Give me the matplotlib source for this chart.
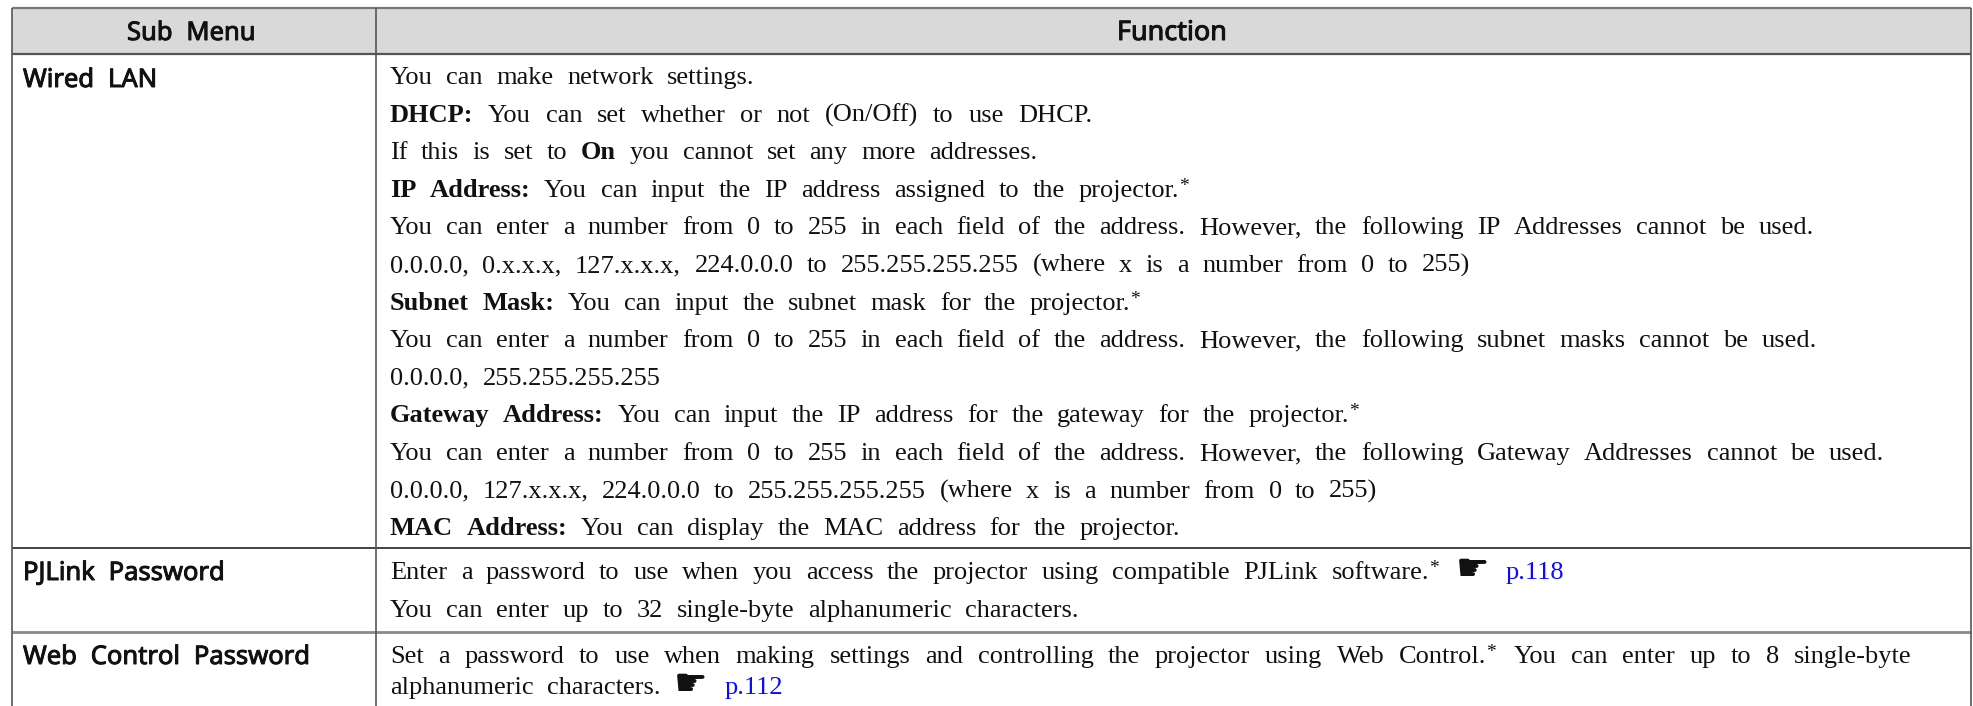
import matplotlib
matplotlib.use("Agg")
import matplotlib.pyplot as plt
import matplotlib.patheffects as pe
from matplotlib.patches import Rectangle

W, H = 1973, 706

headers = ["Sub Menu", "Function"]
menu_names = ["Wired LAN", "PJLink Password", "Web Control Password"]

# r = regular, b = bold, s = raised asterisk, h = hand sign, l = blue link
wired_lines = [
    [("You can make network settings.", "r")],
    [("DHCP:", "b"), ("You can set whether or not (On/Off) to use DHCP.", "r")],
    [("If this is set to", "r"), ("On", "b"), ("you cannot set any more addresses.", "r")],
    [("IP Address:", "b"), ("You can input the IP address assigned to the projector.", "r"), ("*", "s")],
    [("You can enter a number from 0 to 255 in each field of the address. However, the following IP Addresses cannot be used.", "r")],
    [("0.0.0.0, 0.x.x.x, 127.x.x.x, 224.0.0.0 to 255.255.255.255 (where x is a number from 0 to 255)", "r")],
    [("Subnet Mask:", "b"), ("You can input the subnet mask for the projector.", "r"), ("*", "s")],
    [("You can enter a number from 0 to 255 in each field of the address. However, the following subnet masks cannot be used.", "r")],
    [("0.0.0.0, 255.255.255.255", "r")],
    [("Gateway Address:", "b"), ("You can input the IP address for the gateway for the projector.", "r"), ("*", "s")],
    [("You can enter a number from 0 to 255 in each field of the address. However, the following Gateway Addresses cannot be used.", "r")],
    [("0.0.0.0, 127.x.x.x, 224.0.0.0 to 255.255.255.255 (where x is a number from 0 to 255)", "r")],
    [("MAC Address:", "b"), ("You can display the MAC address for the projector.", "r")],
]
pjlink_lines = [
    [("Enter a password to use when you access the projector using compatible PJLink software.", "r"), ("*", "s"), ("\u261b", "h"), ("p.118", "l")],
    [("You can enter up to 32 single-byte alphanumeric characters.", "r")],
]
web_lines = [
    [("Set a password to use when making settings and controlling the projector using Web Control.", "r"), ("*", "s"), ("You can enter up to 8 single-byte", "r")],
    [("alphanumeric characters.", "r"), ("\u261b", "h"), ("p.112", "l")],
]

LEFT, COL, RIGHT = 12, 376, 1971
TOP, HEAD, ROW2, ROW3 = 8, 54, 548, 632
LINE_H = 37.6
WEB_LINE_H = 31  # wrapped paragraph, so tighter than the other rows
FS = 19
WORD_GAP = 13.5
WIDE_GAP = 14.6  # the justified web line and the DHCP line run a bit wider

fig = plt.figure(figsize=(W / 100, H / 100), dpi=100, facecolor="white")
ax = fig.add_axes([0, 0, 1, 1])
ax.set_xlim(0, W)
ax.set_ylim(H, 0)
ax.axis("off")
rend = fig.canvas.get_renderer()

STYLES = {
    "r": dict(family="Liberation Serif", color="#111111"),
    "b": dict(family="Liberation Serif", weight="bold", color="#111111"),
    "l": dict(family="Liberation Serif", color="#0a0aff"),
}


def put_word(x, y, word, **kw):
    t = ax.text(x, y, word, fontsize=FS, va="baseline", ha="left", **kw)
    return t.get_window_extent(rend).width


def draw_line(x, y, runs, gap=WORD_GAP):
    for text, style in runs:
        if style == "s":
            # asterisk sits tight against the word before it
            x -= gap
            t = ax.text(x, y - 6, "*", fontsize=14, family="Liberation Serif", color="#111111", va="baseline")
            x += t.get_window_extent(rend).width + gap + 3
            continue
        if style == "h":
            t = ax.text(x, y + 1, text, fontsize=27, family="DejaVu Sans", color="#111111", va="baseline")
            x += t.get_window_extent(rend).width + 17
            continue
        for word in text.split(" "):
            x += put_word(x, y, word, **STYLES[style]) + gap


def draw_sans(x, y, name, fs=18.4):
    for word in name.split(" "):
        t = ax.text(x, y, word, fontsize=fs, family="Noto Sans", color="#111111", va="baseline",
                    path_effects=[pe.withStroke(linewidth=0.7, foreground="#111111")])
        x += t.get_window_extent(rend).width + 14


ax.add_patch(Rectangle((LEFT, TOP), RIGHT - LEFT, HEAD - TOP, fc="#d9d9d9", ec="none"))

for y, c, lw in [(TOP, "#777777", 1.6), (HEAD, "#555555", 1.6), (ROW2, "#333333", 1.3), (ROW3, "#8a8a8a", 2.0)]:
    ax.plot([LEFT, RIGHT], [y, y], color=c, lw=lw, solid_capstyle="butt")
for x in [LEFT, COL, RIGHT]:
    ax.plot([x, x], [TOP, H], color="#555555", lw=1.2, solid_capstyle="butt")

draw_sans(127, 40, headers[0])
draw_sans(1117, 40, headers[1], fs=19.4)

menu_y = [87, 580, 664]
for name, y in zip(menu_names, menu_y):
    draw_sans(23, y, name)

BODY_X = 390
for i, runs in enumerate(wired_lines):
    draw_line(BODY_X, 84 + i * LINE_H, runs, WIDE_GAP if i == 1 else WORD_GAP)
for i, runs in enumerate(pjlink_lines):
    draw_line(BODY_X, 579 + i * LINE_H, runs)
for i, runs in enumerate(web_lines):
    draw_line(BODY_X, 663 + i * WEB_LINE_H, runs, WIDE_GAP if i == 0 else WORD_GAP)

fig.savefig("out.png", dpi=100)
